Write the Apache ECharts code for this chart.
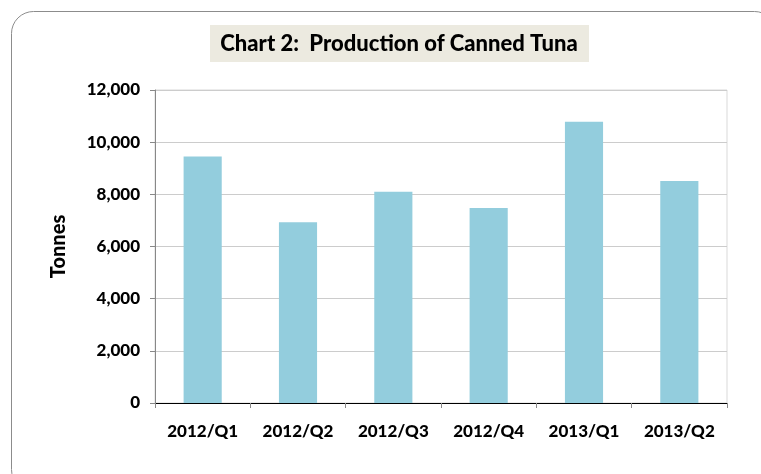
<!DOCTYPE html>
<html>
<head>
<meta charset="utf-8">
<script src="https://cdn.jsdelivr.net/npm/echarts@6/dist/echarts.min.js"></script>
<style>
  html, body { margin: 0; padding: 0; background: #fff; }
  #chart { width: 761px; height: 474px; }
</style>
</head>
<body>
<div id="chart"></div>
<script>
  // data
  const quarters = ['2012/Q1', '2012/Q2', '2012/Q3', '2012/Q4', '2013/Q1', '2013/Q2'];
  const tonnes = [9450, 6930, 8100, 7480, 10780, 8510];
  const yTicks = [0, 2000, 4000, 6000, 8000, 10000, 12000];

  const FONT = 'Lato, "Open Sans", sans-serif';

  const chart = echarts.init(document.getElementById('chart'));
  chart.setOption({
    animation: false,
    graphic: [
      { // rounded outer frame, runs off the right/bottom edges
        type: 'rect',
        shape: { x: 11.5, y: 11.5, width: 765, height: 480, r: 22 },
        style: { fill: 'none', stroke: '#8c8c8c', lineWidth: 1 },
        z: 0
      },
      { // beige title box
        type: 'rect',
        shape: { x: 210, y: 25, width: 379, height: 37 },
        style: { fill: '#ECEAE0' },
        z: 1
      },
      {
        type: 'text',
        x: 399, y: 44,
        style: {
          text: 'Chart 2:  Production of Canned Tuna',
          align: 'center', verticalAlign: 'middle',
          font: '900 22px ' + FONT,
          fill: '#000'
        },
        z: 2
      }
    ],
    grid: {
      left: 155, right: 34, top: 90, bottom: 71,
      show: true, borderColor: '#d9d9d9', borderWidth: 1
    },
    xAxis: {
      type: 'category',
      data: quarters,
      axisLine: { lineStyle: { color: '#000', width: 1 } },
      axisTick: { show: true, length: 5, lineStyle: { color: '#888' } },
      axisLabel: {
        margin: 20, color: '#000',
        fontFamily: FONT, fontWeight: 900, fontSize: 17
      }
    },
    yAxis: {
      type: 'value',
      min: yTicks[0], max: yTicks[yTicks.length - 1], interval: 2000,
      name: 'Tonnes',
      nameLocation: 'middle',
      nameGap: 86,
      nameTextStyle: {
        color: '#000', fontWeight: 900, fontSize: 20, fontFamily: FONT
      },
      axisLine: { show: true, lineStyle: { color: '#888' } },
      axisTick: { show: true, length: 5, lineStyle: { color: '#888' } },
      splitLine: { lineStyle: { color: '#cccccc', width: 1 } },
      axisLabel: {
        margin: 15, color: '#000',
        fontFamily: FONT, fontWeight: 900, fontSize: 17,
        formatter: v => v.toLocaleString('en-US')
      }
    },
    series: [{
      type: 'bar',
      data: tonnes,
      barWidth: '40%',
      itemStyle: { color: '#93CDDD' }
    }]
  });
</script>
</body>
</html>
